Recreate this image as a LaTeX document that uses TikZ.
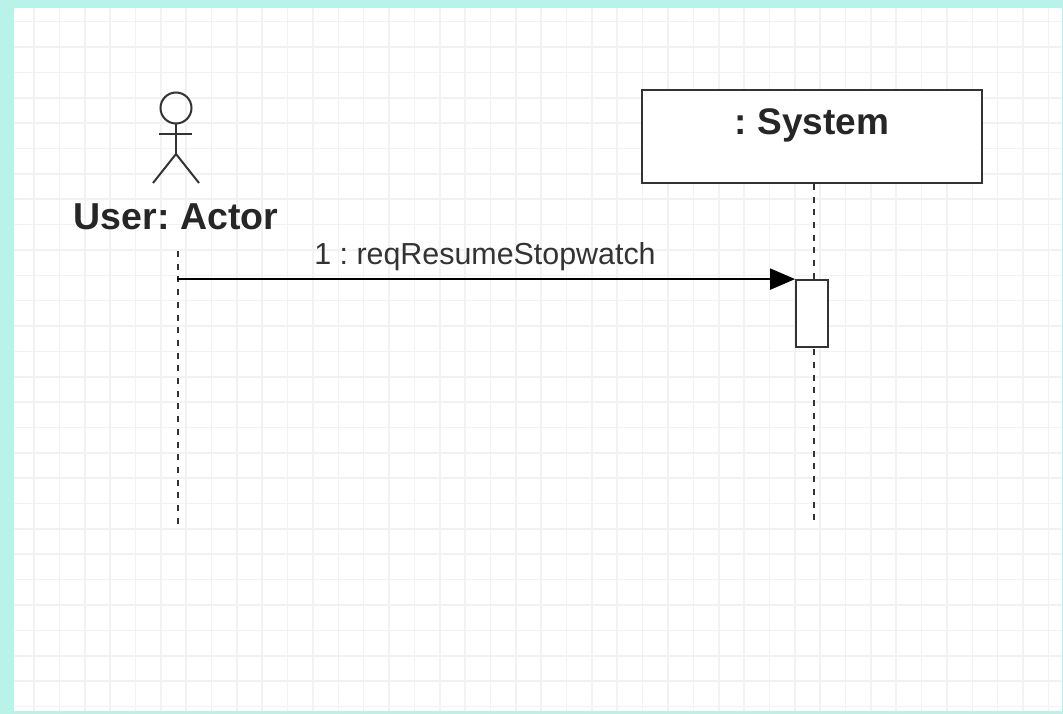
\documentclass[tikz,border=0pt]{standalone}
\usepackage{fontspec}
\setmainfont{Liberation Sans}
\usetikzlibrary{arrows.meta}
\definecolor{framecyan}{HTML}{B8F2E8}
\definecolor{gridgray}{HTML}{F2F2F2}
\definecolor{inkdark}{HTML}{333333}
\frenchspacing
\tikzset{
  lifeline/.style={draw=inkdark, line width=1.6pt, dash pattern=on 6pt off 6.7pt},
  objbox/.style={draw=inkdark, line width=2pt, fill=white, minimum width=340pt, minimum height=93pt, inner sep=0pt},
  actbox/.style={draw=inkdark, line width=1.8pt, fill=white, minimum width=32pt, minimum height=67pt, inner sep=0pt},
  stick/.style={draw=inkdark, line width=2pt},
  msg/.style={draw=black, line width=2pt, -{Triangle[length=25pt,width=21pt]}},
  boldlabel/.style={font=\bfseries\fontsize{37.5}{40}\selectfont, text=black!85, inner sep=0pt},
  msglabel/.style={font=\fontsize{30.4}{33}\selectfont, text=inkdark, inner sep=0pt}
}
\begin{document}
\begin{tikzpicture}[x=1pt,y=-1pt]
\useasboundingbox (0,0) rectangle (1063,714);
\fill[framecyan] (0,0) rectangle (1063,714);
\fill[white] (14,8) rectangle (1062,711);
\begin{scope}
\clip (14,8) rectangle (1062,711);
\foreach \k in {0,...,41} {
  \draw[gridgray, line width=1.6pt] ({34+25.36*\k},8) -- ({34+25.36*\k},711);
}
\foreach \k in {0,...,27} {
  \draw[gridgray, line width=1.6pt] (14,{21.7+25.36*\k}) -- (1062,{21.7+25.36*\k});
}
\end{scope}
% actor
\node[stick, circle, minimum size=31pt, inner sep=0pt] (head) at (176,108) {};
\coordinate (hip) at (176,154);
\coordinate (armL) at (159,134);
\coordinate (armR) at (192,134);
\coordinate (legL) at (153,183);
\coordinate (legR) at (199,183);
\draw[stick] (head.south) -- (hip);
\draw[stick] (armL) -- (armR);
\draw[stick] (legL) -- (hip) -- (legR);
\node[boldlabel, anchor=base] (actorlabel) at (176,230) {User: Actor};
% system
\node[objbox] (sys) at (812,136.5) {};
\node[boldlabel, font=\bfseries\fontsize{37}{40}\selectfont, anchor=base] (syslabel) at (812,135) {: System};
% lifelines
\coordinate (alTop) at (178,251);
\coordinate (alBot) at (178,527);
\draw[lifeline] (alTop) -- (alBot);
\coordinate (slBot) at (814,522);
\draw[lifeline] (sys.south -| slBot) -- (slBot);
% activation
\node[actbox] (act) at (812,313.5) {};
% message
\coordinate (msgStart) at (177,280);
\draw[msg] (msgStart |- act.north west) -- (act.north west);
\node[msglabel, anchor=base] (msgtext) at (485,265) {1 : reqResumeStopwatch};
\end{tikzpicture}
\end{document}
